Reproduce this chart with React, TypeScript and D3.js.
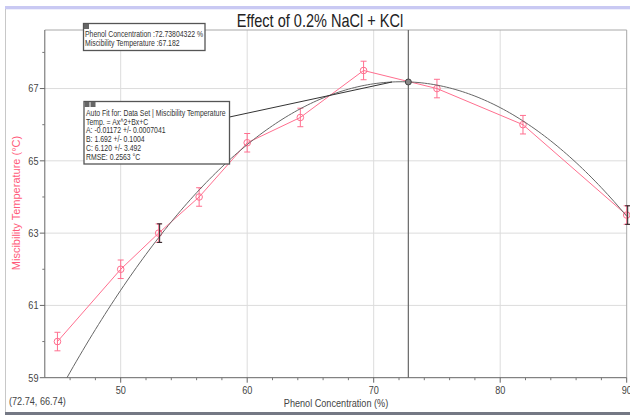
import React from "react";
import * as d3 from "d3";

// ---- data ----
const phenol = [45, 50, 53, 56.2, 60, 64.2, 69.2, 75, 81.8, 90];
const temp = [60.0, 62.0, 63.0, 64.0, 65.5, 66.2, 67.5, 67.0, 66.0, 63.5];
const errBar = 0.2563;
const selectedIdx = [2, 9];
const fitA = -0.01172;
const fitB = 1.692;
const fitC = 6.12;
const cursorX = 72.73804322;
const cursorY = 67.182;
const xTicks = [50, 60, 70, 80, 90];
const xMinor = [46, 48, 52, 54, 56, 58, 62, 64, 66, 68, 72, 74, 76, 78, 82, 84, 86, 88];
const yTicks = [59, 61, 63, 65, 67];
const yMinor = [60, 62, 64, 66, 68];
const title = "Effect of 0.2% NaCl + KCl";
const xLabel = "Phenol Concentration  (%)";
const yLabel = "Miscibility Temperature (°C)";
const cornerLabel = "(72.74, 66.74)";
const box1Lines = ["Phenol Concentration :72.73804322 %", "Miscibility Temperature :67.182"];
const box2Lines = [
  "Auto Fit for: Data Set | Miscibility Temperature",
  "Temp. = Ax^2+Bx+C",
  "A: -0.01172 +/- 0.0007041",
  "B: 1.692 +/- 0.1004",
  "C: 6.120 +/- 3.492",
  "RMSE: 0.2563 °C",
];
const connectorX = 71.45;

const W = 630;
const H = 415;
const FONT = "'Liberation Sans', Arial, sans-serif";
const PINK = "#ff6f8f";
const PINK_LABEL = "#ff5a7a";
const SX = 0.83;

function T(props: {
  x: number;
  y: number;
  size: number;
  anchor?: string;
  fill?: string;
  dy?: string;
  sx?: number;
  children: React.ReactNode;
}) {
  const s = props.sx ?? SX;
  return (
    <text
      transform={`translate(${props.x},${props.y}) scale(${s},1)`}
      fontSize={props.size}
      textAnchor={props.anchor || "start"}
      fill={props.fill || "#444"}
      dy={props.dy}
    >
      {props.children}
    </text>
  );
}

export default function App() {
  const x = d3.scaleLinear().domain([44, 90]).range([44.8, 626.7]);
  const y = d3.scaleLinear().domain([59, 68.62]).range([377.7, 30]);
  const fit = (v: number) => fitA * v * v + fitB * v + fitC;

  const fitPts: [number, number][] = d3
    .range(44, 90.001, 0.25)
    .map((v) => [v, fit(v)] as [number, number])
    .filter((p) => p[1] >= 59);
  const fitStart = (-fitB + Math.sqrt(fitB * fitB - 4 * fitA * (fitC - 59))) / (2 * fitA);
  fitPts.unshift([fitStart, 59]);
  const line = d3
    .line<[number, number]>()
    .x((d) => x(d[0]))
    .y((d) => y(d[1]));
  const dataPts: [number, number][] = phenol.map((p, i) => [p, temp[i]]);

  const left = x(44);
  const right = x(90);
  const top = y(68.62);
  const bottom = y(59);

  return (
    <svg
      width={W}
      height={H}
      style={{ position: "absolute", left: 0, top: 0, background: "#fff" }}
      fontFamily={FONT}
    >
      <rect x={0} y={0} width={W} height={H} fill="#fff" />
      {/* window frame */}
      <rect x={5} y={6} width={W - 5} height={3.3} fill="#c9c9f3" />
      <line x1={5.5} y1={9} x2={5.5} y2={412} stroke="#c8c8c8" />
      <rect x={5} y={412} width={W - 5} height={3} fill="#747884" />

      {/* grid */}
      {xTicks.filter((t) => t < 90).map((t) => (
        <line key={"gx" + t} x1={x(t)} x2={x(t)} y1={top} y2={bottom} stroke="#dcdcdc" />
      ))}
      {yTicks.filter((t) => t > 59).map((t) => (
        <line key={"gy" + t} x1={left} x2={right} y1={y(t)} y2={y(t)} stroke="#dcdcdc" />
      ))}
      {/* plot border */}
      <line x1={left} x2={right} y1={top} y2={top} stroke="#a8a8a8" />
      <line x1={right} x2={right} y1={top} y2={bottom} stroke="#a8a8a8" />
      {/* axes */}
      <line x1={left} x2={left} y1={top} y2={bottom} stroke="#666" />
      <line x1={left} x2={right} y1={bottom} y2={bottom} stroke="#666" />
      {xTicks.map((t) => (
        <g key={"xt" + t}>
          <line x1={x(t)} x2={x(t)} y1={bottom} y2={bottom + 5} stroke="#666" />
          <T x={x(t)} y={394} size={11} anchor="middle">
            {t}
          </T>
        </g>
      ))}
      {xMinor.map((t) => (
        <line key={"xm" + t} x1={x(t)} x2={x(t)} y1={bottom} y2={bottom + 2.5} stroke="#777" />
      ))}
      {yTicks.map((t) => (
        <g key={"yt" + t}>
          <line x1={left - 5} x2={left} y1={y(t)} y2={y(t)} stroke="#666" />
          <T x={38.5} y={y(t)} dy="0.35em" size={11} anchor="end">
            {t}
          </T>
        </g>
      ))}
      {yMinor.map((t) => (
        <line key={"ym" + t} x1={left - 2.5} x2={left} y1={y(t)} y2={y(t)} stroke="#777" />
      ))}

      {/* axis labels */}
      <T x={336} y={407} size={11} anchor="middle">
        {xLabel}
      </T>
      <text
        transform={`translate(20,${203}) rotate(-90)`}
        fontSize={11}
        textAnchor="middle"
        fill={PINK_LABEL}
      >
        {yLabel}
      </text>
      <T x={9} y={405} size={11}>
        {cornerLabel}
      </T>

      {/* title */}
      <T x={320} y={26.5} size={17.5} anchor="middle" fill="#222">
        {title}
      </T>

      {/* cursor vertical line */}
      <line x1={x(cursorX)} x2={x(cursorX)} y1={top} y2={bottom} stroke="#666" strokeWidth={1.2} />

      {/* data line */}
      <path d={line(dataPts) || ""} fill="none" stroke={PINK} strokeWidth={1} />
      {dataPts.map((d, i) => (
        <g key={"p" + i} stroke={PINK} fill="none" strokeWidth={1}>
          <circle cx={x(d[0])} cy={y(d[1])} r={3.3} />
          <line x1={x(d[0])} x2={x(d[0])} y1={y(d[1] - errBar)} y2={y(d[1] + errBar)} />
          <line x1={x(d[0]) - 3} x2={x(d[0]) + 3} y1={y(d[1] - errBar)} y2={y(d[1] - errBar)} />
          <line x1={x(d[0]) - 3} x2={x(d[0]) + 3} y1={y(d[1] + errBar)} y2={y(d[1] + errBar)} />
        </g>
      ))}

      {/* fit curve */}
      <path d={line(fitPts) || ""} fill="none" stroke="#666" strokeWidth={1} />

      {/* selected (black) error bars */}
      {selectedIdx.map((i) => {
        const cx = x(phenol[i]) + 1;
        return (
          <g key={"s" + i} stroke="#222" strokeWidth={1}>
            <line x1={cx} x2={cx} y1={y(temp[i] - errBar)} y2={y(temp[i] + errBar)} />
            <line x1={cx - 2.5} x2={cx + 2.5} y1={y(temp[i] - errBar)} y2={y(temp[i] - errBar)} />
            <line x1={cx - 2.5} x2={cx + 2.5} y1={y(temp[i] + errBar)} y2={y(temp[i] + errBar)} />
          </g>
        );
      })}

      {/* cursor marker */}
      <circle cx={x(cursorX)} cy={y(cursorY)} r={3} fill="#888" stroke="#444" />

      {/* connector */}
      <line x1={229.5} y1={117} x2={x(connectorX)} y2={y(fit(connectorX))} stroke="#333" strokeWidth={1} />

      {/* box 1 */}
      <rect x={83.5} y={23.5} width={121.5} height={27} fill="#fff" stroke="#555" strokeWidth={1.3} />
      <rect x={84} y={24} width={5} height={5} fill="#666" />
      {box1Lines.map((t, i) => (
        <T key={"b1" + i} x={85} y={37 + i * 9} size={8.5} fill="#333" sx={0.81}>
          {t}
        </T>
      ))}

      {/* box 2 */}
      <rect x={84} y={101.5} width={145.5} height={62.5} fill="#fff" stroke="#555" strokeWidth={1.3} />
      <rect x={84.5} y={102} width={5} height={5} fill="#666" />
      <rect x={90.5} y={102} width={5} height={5} fill="#666" />
      {box2Lines.map((t, i) => (
        <T key={"b2" + i} x={86} y={116 + i * 8.7} size={8.5} fill="#333" sx={0.81}>
          {t}
        </T>
      ))}
    </svg>
  );
}
